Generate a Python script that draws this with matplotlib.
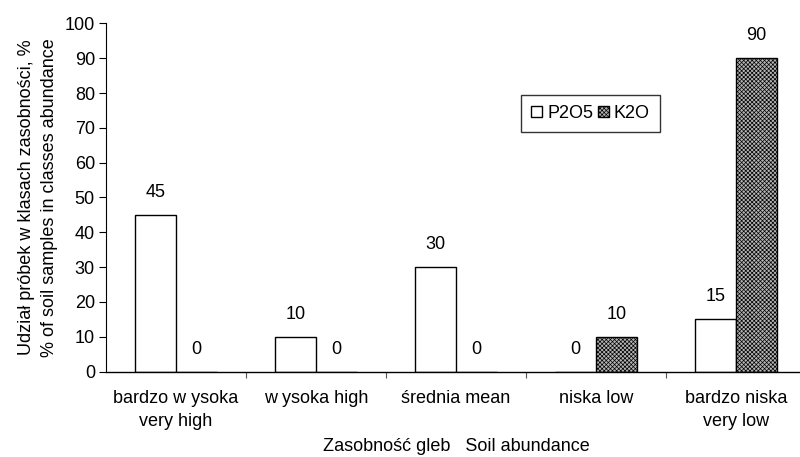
import numpy as np
import matplotlib.pyplot as plt
from matplotlib.ticker import FixedLocator, NullFormatter

plt.rcParams['font.family'] = ['Liberation Sans', 'DejaVu Sans']
plt.rcParams['hatch.linewidth'] = 0.5
plt.rcParams['hatch.color'] = '#5a5a5a'

categories = ['bardzo w ysoka\nvery high', 'w ysoka high', 'średnia mean',
              'niska low', 'bardzo niska\nvery low']
p2o5 = [45, 10, 30, 0, 15]
k2o = [0, 0, 0, 10, 90]

FS = 13

fig = plt.figure(figsize=(8.0, 4.57), dpi=100)
ax = fig.add_axes([106 / 800, (457 - 371.5) / 457, 700 / 800, 348 / 457])

x = np.arange(len(categories))
w = 0.293
b1 = ax.bar(x - w / 2, p2o5, w, color='white', edgecolor='black', linewidth=1.0, label='P2O5')
b2 = ax.bar(x + w / 2, k2o, w, color='#b4b4b4', edgecolor='black', linewidth=1.0,
            hatch='xxxxxxxx', label='K2O')

for bars, vals in ((b1, p2o5), (b2, k2o)):
    for rect, v in zip(bars, vals):
        ax.annotate(f'{v}', (rect.get_x() + rect.get_width() / 2, v),
                    xytext=(0, 10), textcoords='offset points',
                    ha='center', va='bottom', fontsize=FS)

ax.set_xlim(-0.5, len(categories) - 0.5)
ax.set_ylim(0, 100)
ax.set_yticks(np.arange(0, 101, 10))

# category labels centred, tick marks between groups
ax.set_xticks(x)
ax.set_xticklabels(categories, fontsize=FS, linespacing=1.5)
ax.tick_params(axis='x', which='major', length=0, pad=13)
ax.xaxis.set_minor_locator(FixedLocator(np.arange(0.5, len(categories) - 1, 1.0)))
ax.xaxis.set_minor_formatter(NullFormatter())
ax.tick_params(axis='x', which='minor', length=4, width=0.8, color='#555555')
ax.tick_params(axis='y', length=5, width=0.8, labelsize=FS, pad=3)

for side in ('top', 'right'):
    ax.spines[side].set_visible(False)
ax.spines['left'].set_linewidth(0.8)
ax.spines['bottom'].set_linewidth(1.0)

ax.set_ylabel('Udział próbek w klasach zasobności, %\n% of soil samples in classes abundance',
              fontsize=FS, labelpad=5, linespacing=1.45)
ax.set_xlabel('Zasobność gleb   Soil abundance', fontsize=FS, labelpad=6)

leg = ax.legend(ncol=2, loc='upper left', bbox_to_anchor=((521 - 106) / 700, (371.5 - 95) / 348),
                frameon=True, fancybox=False, fontsize=FS, handlelength=0.6, handleheight=0.6,
                handletextpad=0.3, columnspacing=0.25, borderpad=0.55, borderaxespad=0)
leg.get_frame().set_edgecolor('black')
leg.get_frame().set_linewidth(1.0)

fig.savefig('out.png', dpi=100)
